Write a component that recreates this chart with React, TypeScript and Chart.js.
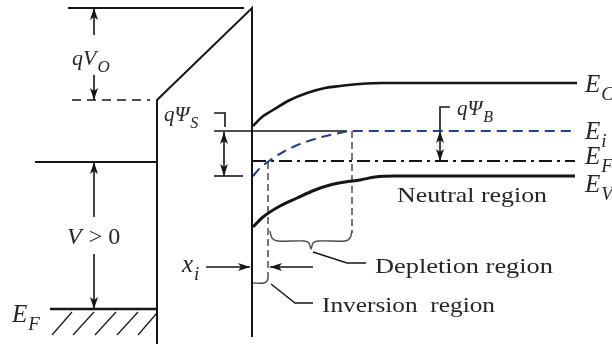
import { useEffect, useRef } from "react";
import { Chart, registerables } from "chart.js";

Chart.register(...registerables);

// Diagram space: x = position across gate / oxide / silicon, y = energy drawn downward.
const X_MAX = 612;
const Y_MAX = 344;

type Pt = [number, number];

// ---- Gate metal -------------------------------------------------------
const gateTopLevel: Pt[] = [[68, 8], [244, 8]];
const gateShiftedLevel: Pt[] = [[72, 100], [150, 100]];
const gateBiasLevel: Pt[] = [[35, 162], [157, 162]];
const gateFermiLevel: Pt[] = [[50, 309], [157, 309]];
const gateHatch: Pt[][] = [
  [[52, 335], [72, 312]],
  [[73, 335], [94, 312]],
  [[95, 335], [116, 312]],
  [[117, 335], [138, 312]],
  [[138, 335], [157, 313]],
];

// ---- Oxide ------------------------------------------------------------
const oxideOutline: Pt[] = [[157, 344], [157, 100], [252, 8], [252, 337]];

// ---- Semiconductor bands ----------------------------------------------
const conductionBand: Pt[] = [
  [253, 126], [262, 117], [273, 110], [290, 100], [307, 93], [325, 88],
  [340, 86], [360, 84], [383, 83], [577, 83],
];
const intrinsicLevel: Pt[] = [
  [253, 176], [260, 168], [269, 161], [285, 151], [300, 144], [318, 138],
  [335, 134], [352, 131], [575, 131],
];
const fermiLevel: Pt[] = [[253, 161], [575, 161]];
const valenceBand: Pt[] = [
  [253, 227], [263, 217], [280, 206], [297, 198], [315, 190], [330, 185],
  [345, 182], [360, 180], [375, 177], [395, 176], [575, 176],
];

// ---- Reference levels, brackets and arrows ----------------------------
const bulkIntrinsicRef: Pt[] = [[214, 131], [347, 131]];
const surfaceIntrinsicRef: Pt[] = [[214, 176], [243, 176]];
const psiSBracket: Pt[] = [[214, 113], [225, 113], [225, 127]];
const psiSArrow: Pt[] = [[224, 132], [224, 176]];
const psiBBracket: Pt[] = [[450, 107], [440, 107], [440, 131]];
const psiBArrow: Pt[] = [[440, 131], [440, 161]];
const qVoArrowUp: Pt[] = [[94, 35], [94, 8]];
const qVoArrowDown: Pt[] = [[94, 75], [94, 100]];
const biasArrowUp: Pt[] = [[94, 217], [94, 162]];
const biasArrowDown: Pt[] = [[94, 254], [94, 309]];
const xiArrowIn: Pt[] = [[206, 267], [250, 267]];
const xiArrowOut: Pt[] = [[313, 267], [270, 267]];

// ---- Region markers ---------------------------------------------------
const inversionEdge: Pt[] = [[268, 162], [268, 278]];
const depletionEdge: Pt[] = [[352, 131], [352, 233]];
const depletionBrace: Pt[] = [
  [270, 231], [272, 238], [278, 241], [304, 241], [309, 243], [311, 249],
  [313, 243], [318, 241], [345, 241], [350, 238], [352, 231],
];
const depletionLeader: Pt[] = [[313, 252], [347, 263], [366, 263]];
const inversionBracket: Pt[] = [[253, 283], [264, 283], [267, 281], [268, 278]];
const inversionLeader: Pt[] = [[271, 284], [295, 303], [313, 303]];

// ---- Text -------------------------------------------------------------
type Seg = { t: string; italic?: boolean; sub?: boolean };
type Label = { x: number; y: number; size: number; segs: Seg[]; fitWidth?: number };

const labels: Label[] = [
  { x: 72, y: 65, size: 22, segs: [{ t: "qV", italic: true }, { t: "O", italic: true, sub: true }] },
  { x: 164, y: 121, size: 21, segs: [{ t: "qΨ", italic: true }, { t: "S", italic: true, sub: true }] },
  { x: 457, y: 115, size: 21, segs: [{ t: "qΨ", italic: true }, { t: "B", italic: true, sub: true }] },
  { x: 67, y: 244, size: 24, segs: [{ t: "V", italic: true }, { t: " > 0" }] },
  { x: 12, y: 322, size: 25, segs: [{ t: "E", italic: true }, { t: "F", italic: true, sub: true }] },
  { x: 182, y: 272, size: 25, segs: [{ t: "x", italic: true }, { t: "i", italic: true, sub: true }] },
  { x: 585, y: 92, size: 25, segs: [{ t: "E", italic: true }, { t: "C", italic: true, sub: true }] },
  { x: 585, y: 139, size: 25, segs: [{ t: "E", italic: true }, { t: "i", italic: true, sub: true }] },
  { x: 585, y: 164, size: 25, segs: [{ t: "E", italic: true }, { t: "F", italic: true, sub: true }] },
  { x: 585, y: 192, size: 25, segs: [{ t: "E", italic: true }, { t: "V", italic: true, sub: true }] },
  { x: 397, y: 202, size: 22, segs: [{ t: "Neutral region" }], fitWidth: 150 },
  { x: 375, y: 273, size: 22, segs: [{ t: "Depletion region" }], fitWidth: 178 },
  { x: 322, y: 312, size: 22, segs: [{ t: "Inversion  region" }], fitWidth: 173 },
];

const INK = "#151515";
const TEXT = "#262626";
const BLUE = "#24408a";
const GREY = "#4a4a4a";
const SERIF = '"Liberation Serif", "Times New Roman", serif';

type Heads = "start" | "end" | "both";

const line = (pts: Pt[], style: Record<string, unknown> = {}) => ({
  data: pts.map(([x, y]) => ({ x, y })),
  showLine: true,
  pointRadius: 0,
  pointHoverRadius: 0,
  fill: false,
  borderColor: INK,
  borderWidth: 2,
  borderCapStyle: "butt",
  borderJoinStyle: "miter",
  ...style,
});

const arrow = (pts: Pt[], heads: Heads) => line(pts, { borderWidth: 1.6, heads });

const arrowHeadPlugin = {
  id: "arrowHeads",
  afterDatasetsDraw(chart: Chart) {
    const ctx = chart.ctx;
    ctx.save();
    ctx.fillStyle = INK;
    const drawHead = (tip: { x: number; y: number }, from: { x: number; y: number }) => {
      const a = Math.atan2(tip.y - from.y, tip.x - from.x);
      const len = 12;
      const half = 4;
      const notch = 9;
      const c = Math.cos(a);
      const s = Math.sin(a);
      const bx = tip.x - c * len;
      const by = tip.y - s * len;
      ctx.beginPath();
      ctx.moveTo(tip.x, tip.y);
      ctx.lineTo(bx - s * half, by + c * half);
      ctx.lineTo(tip.x - c * notch, tip.y - s * notch);
      ctx.lineTo(bx + s * half, by - c * half);
      ctx.closePath();
      ctx.fill();
    };
    chart.data.datasets.forEach((ds: any, i: number) => {
      if (!ds.heads) return;
      const pts = chart.getDatasetMeta(i).data as any[];
      const n = pts.length;
      if (n < 2) return;
      if (ds.heads === "end" || ds.heads === "both") drawHead(pts[n - 1], pts[n - 2]);
      if (ds.heads === "start" || ds.heads === "both") drawHead(pts[0], pts[1]);
    });
    ctx.restore();
  },
};

const labelPlugin = {
  id: "diagramLabels",
  afterDatasetsDraw(chart: Chart) {
    const { ctx } = chart;
    const xs = chart.scales.x;
    const ys = chart.scales.y;
    ctx.save();
    ctx.fillStyle = TEXT;
    ctx.textBaseline = "alphabetic";
    ctx.textAlign = "left";
    for (const lb of labels) {
      let px = xs.getPixelForValue(lb.x);
      const py = ys.getPixelForValue(lb.y);
      if (lb.fitWidth) {
        const t = lb.segs.map((s) => s.t).join("");
        ctx.font = `${lb.size}px ${SERIF}`;
        const w = ctx.measureText(t).width;
        ctx.save();
        ctx.translate(px, py);
        ctx.scale(lb.fitWidth / w, 1);
        ctx.fillText(t, 0, 0);
        ctx.restore();
        continue;
      }
      for (const s of lb.segs) {
        const size = s.sub ? Math.round(lb.size * 0.75) : lb.size;
        ctx.font = `${s.italic ? "italic " : ""}${size}px ${SERIF}`;
        const dy = s.sub ? lb.size * 0.32 : 0;
        ctx.fillText(s.t, px, py + dy);
        px += ctx.measureText(s.t).width + (s.sub ? 0 : 1);
      }
    }
    ctx.restore();
  },
};

export default function App() {
  const canvasRef = useRef<HTMLCanvasElement | null>(null);

  useEffect(() => {
    const canvas = canvasRef.current;
    if (!canvas) return;

    const datasets: any[] = [
      // gate
      line(gateTopLevel),
      line(gateShiftedLevel, { borderWidth: 1.6, borderDash: [9, 6] }),
      line(gateBiasLevel),
      line(gateFermiLevel, { borderWidth: 2.6 }),
      ...gateHatch.map((h) => line(h, { borderWidth: 1.2 })),
      // oxide
      line(oxideOutline),
      // bands
      line(conductionBand, { borderWidth: 2.6, cubicInterpolationMode: "monotone" }),
      line(intrinsicLevel, {
        borderWidth: 2,
        borderColor: BLUE,
        borderDash: [10, 6],
        cubicInterpolationMode: "monotone",
      }),
      line(fermiLevel, { borderWidth: 2, borderDash: [13, 5, 3, 5] }),
      line(valenceBand, { borderWidth: 3, cubicInterpolationMode: "monotone" }),
      // references and brackets
      line(bulkIntrinsicRef, { borderWidth: 1.6 }),
      line(surfaceIntrinsicRef, { borderWidth: 1.6 }),
      line(psiSBracket, { borderWidth: 1.6 }),
      line(psiBBracket, { borderWidth: 1.6 }),
      arrow(psiSArrow, "both"),
      arrow(psiBArrow, "both"),
      arrow(qVoArrowUp, "end"),
      arrow(qVoArrowDown, "end"),
      arrow(biasArrowUp, "end"),
      arrow(biasArrowDown, "end"),
      arrow(xiArrowIn, "end"),
      arrow(xiArrowOut, "end"),
      // regions
      line(inversionEdge, { borderWidth: 1.5, borderColor: GREY, borderDash: [7, 4] }),
      line(depletionEdge, { borderWidth: 1.5, borderColor: GREY, borderDash: [7, 4] }),
      line(depletionBrace, { borderWidth: 1.4, borderColor: GREY, tension: 0.3, borderJoinStyle: "round" }),
      line(depletionLeader, { borderWidth: 1.4 }),
      line(inversionBracket, { borderWidth: 1.4, borderColor: GREY, tension: 0.3 }),
      line(inversionLeader, { borderWidth: 1.4 }),
    ];

    const chart = new Chart(canvas, {
      type: "scatter",
      data: { datasets },
      options: {
        responsive: false,
        animation: false,
        devicePixelRatio: 1,
        events: [],
        layout: { padding: 0 },
        clip: false as any,
        scales: {
          x: { type: "linear", min: 0, max: X_MAX, display: false },
          y: { type: "linear", min: 0, max: Y_MAX, reverse: true, display: false },
        },
        plugins: {
          legend: { display: false },
          tooltip: { enabled: false },
        },
      },
      plugins: [arrowHeadPlugin, labelPlugin],
    });

    return () => chart.destroy();
  }, []);

  return (
    <div style={{ position: "absolute", left: 0, top: 0, width: X_MAX, height: Y_MAX, background: "#fff" }}>
      <canvas ref={canvasRef} width={X_MAX} height={Y_MAX} style={{ display: "block" }} />
    </div>
  );
}
